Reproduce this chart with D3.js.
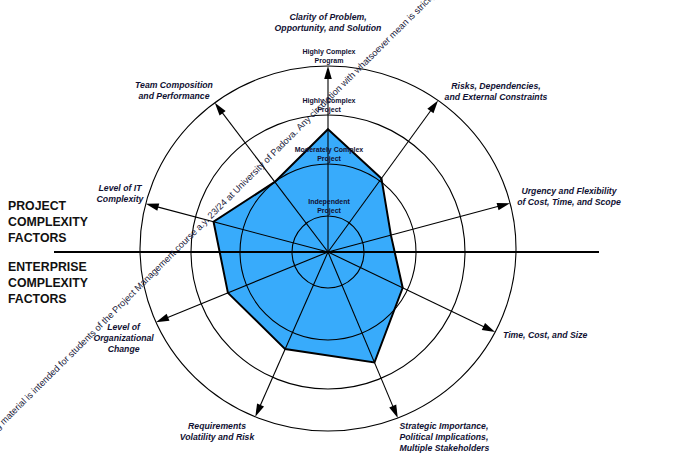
<!DOCTYPE html>
<html><head><meta charset="utf-8">
<script src="https://cdn.jsdelivr.net/npm/d3@7"></script>
<style>body{margin:0;background:#fff}svg{display:block}</style>
</head><body>
<svg id="c" width="673" height="464"></svg>
<script>
// ---- data ----
const factors = [
  ["Clarity of Problem,", "Opportunity, and Solution"],
  ["Risks, Dependencies,", "and External Constraints"],
  ["Urgency and Flexibility", "of Cost, Time, and Scope"],
  ["Time, Cost, and Size"],
  ["Strategic Importance,", "Political Implications,", "Multiple Stakeholders"],
  ["Requirements", "Volatility and Risk"],
  ["Level of", "Organizational", "Change"],
  ["Level of IT", "Complexity"],
  ["Team Composition", "and Performance"]
];
const factorAngles = [0, 36, 75, 115.6, 157.2, 203.8, 247.8, 284.8, 322.8]; // degrees clockwise from up
const complexity = [2.71, 2.06, 1.56, 1.90, 2.65, 2.37, 2.41, 2.62, 2.0];   // level units
const levels = [1, 2, 3, 4];
const levelLabels = [
  ["Independent", "Project"],
  ["Moderately Complex", "Project"],
  ["Highly Complex", "Project"],
  ["Highly Complex", "Program"]
];
const groupLabelsTop = ["PROJECT", "COMPLEXITY", "FACTORS"];
const groupLabelsBottom = ["ENTERPRISE", "COMPLEXITY", "FACTORS"];
const watermarkA = "This teaching material is intended for students of the Project Management course a.y. 23/24 at University of Padova.";
const watermarkB = "Any circulation with whatsoever mean is strictly forbidden";

// ---- layout ----
const cx = 328, cy = 252;
const r = d3.scaleLinear().domain([0, 1, 2, 3, 4]).range([0, 36, 88, 137, 186]);
const outer = {dy: -3.5, rx: 188, ry: 182.5};
const labelLayout = [
  {x: 328, y: 20, a: "middle"},
  {x: 496, y: 88.5, a: "middle"},
  {x: 569, y: 194, a: "middle"},
  {x: 503, y: 337.5, a: "start"},
  {x: 399.5, y: 429, a: "start"},
  {x: 217, y: 429, a: "middle"},
  {x: 123.6, y: 329.5, a: "middle"},
  {x: 120, y: 191, a: "middle"},
  {x: 174, y: 88, a: "middle"}
];
const ink = "#111133";
const svg = d3.select("#c");
const rad = d => d * Math.PI / 180;
const pt = (ang, rr) => [cx + rr * Math.sin(rad(ang)), cy - rr * Math.cos(rad(ang))];

// polygon
const line = d3.line().curve(d3.curveLinearClosed);
svg.append("path")
  .attr("d", line(complexity.map((v, i) => pt(factorAngles[i], r(v)))))
  .attr("fill", "#38abfb").attr("stroke", "#000").attr("stroke-width", 2).attr("stroke-linejoin", "miter");

// rings
svg.selectAll("circle.ring").data(levels.slice(0, 3)).join("circle")
  .attr("cx", cx).attr("cy", cy).attr("r", d => r(d))
  .attr("fill", "none").attr("stroke", "#000").attr("stroke-width", 1.1);
svg.append("ellipse").attr("cx", cx).attr("cy", cy + outer.dy)
  .attr("rx", outer.rx).attr("ry", outer.ry)
  .attr("fill", "none").attr("stroke", "#000").attr("stroke-width", 1.1);

// spokes with arrows
function tipDist(ang) {
  const s = Math.sin(rad(ang)), c = Math.cos(rad(ang)), k = -outer.dy;
  const A = s * s / (outer.rx * outer.rx) + c * c / (outer.ry * outer.ry);
  const B = -2 * k * c / (outer.ry * outer.ry);
  const C = k * k / (outer.ry * outer.ry) - 1;
  return (-B + Math.sqrt(B * B - 4 * A * C)) / (2 * A);
}
const aLen = 13, aHalf = 3.8;
factorAngles.forEach(ang => {
  const t = tipDist(ang);
  const [x1, y1] = pt(ang, t - aLen + 1);
  svg.append("line").attr("x1", cx).attr("y1", cy).attr("x2", x1).attr("y2", y1)
    .attr("stroke", "#000").attr("stroke-width", 1.1);
  const tip = pt(ang, t), base = pt(ang, t - aLen);
  const px = Math.cos(rad(ang)) * aHalf, py = Math.sin(rad(ang)) * aHalf;
  svg.append("path")
    .attr("d", `M${tip[0]},${tip[1]}L${base[0] + px},${base[1] + py}L${base[0] - px},${base[1] - py}Z`)
    .attr("fill", "#000");
});

// divider
svg.append("line").attr("x1", 54).attr("x2", 599).attr("y1", cy).attr("y2", cy)
  .attr("stroke", "#000").attr("stroke-width", 1.8);

// factor labels
factors.forEach((lines, i) => {
  const L = labelLayout[i];
  const t = svg.append("text").attr("text-anchor", L.a)
    .attr("font-family", "Liberation Sans, Arial, sans-serif")
    .attr("font-weight", "bold").attr("font-style", "italic")
    .attr("font-size", 8.7).attr("fill", ink);
  lines.forEach((s, j) => t.append("tspan").attr("x", L.x).attr("y", L.y + j * 11).text(s));
});

// level labels
levelLabels.forEach((lines, i) => {
  const yb = cy - r(levels[i]) - 3;
  const t = svg.append("text").attr("text-anchor", "middle")
    .attr("font-family", "Liberation Sans, Arial, sans-serif")
    .attr("font-weight", "bold").attr("font-size", 7).attr("fill", ink);
  t.append("tspan").attr("x", cx + 1).attr("y", yb - 9.5).text(lines[0]);
  t.append("tspan").attr("x", cx + 1).attr("y", yb).text(lines[1]);
});

// group labels
[[groupLabelsTop, 210], [groupLabelsBottom, 271]].forEach(([arr, y0]) => {
  const t = svg.append("text").attr("font-family", "Liberation Sans, Arial, sans-serif")
    .attr("font-weight", "bold").attr("font-size", 12.3).attr("fill", "#111");
  arr.forEach((s, j) => t.append("tspan").attr("x", 8).attr("y", y0 + j * 16.2).text(s));
});

// watermark
const wm = svg.append("g").attr("transform", "translate(300,131) rotate(-44.8)")
  .attr("font-family", "Liberation Sans, Arial, sans-serif").attr("font-size", 9.2).attr("fill", "#1a1a3a");
wm.append("text").attr("text-anchor", "end").attr("x", -2.5).text(watermarkA);
wm.append("text").attr("text-anchor", "start").attr("x", 0).text(watermarkB);
</script>
</body></html>
